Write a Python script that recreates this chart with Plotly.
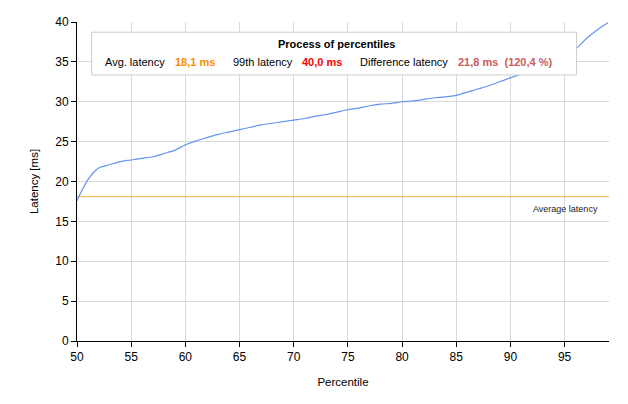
import plotly.graph_objects as go

percentiles = [50, 50.5, 51, 51.5, 52, 53, 54, 55, 56, 57, 58, 59, 60, 61, 62, 63, 64, 65,
               66, 67, 68, 69, 70, 71, 72, 73, 74, 75, 76, 77, 78, 79, 80, 81, 82, 83, 84,
               85, 86, 87, 88, 89, 90, 91, 92, 93, 94, 95, 96, 97, 98, 99]
latency = [17.6, 19.0, 20.2, 21.1, 21.7, 22.1, 22.5, 22.7, 22.9, 23.1, 23.5, 23.9, 24.6,
           25.1, 25.5, 25.9, 26.2, 26.5, 26.8, 27.1, 27.3, 27.5, 27.7, 27.9, 28.2, 28.4,
           28.7, 29.0, 29.2, 29.5, 29.7, 29.8, 30.0, 30.1, 30.3, 30.5, 30.6, 30.8, 31.2,
           31.6, 32.0, 32.5, 33.0, 33.5, 34.1, 34.7, 35.3, 35.9, 36.6, 37.9, 39.0, 39.9]
avg_latency = 18.1
x_ticks = [50, 55, 60, 65, 70, 75, 80, 85, 90, 95]
y_ticks = [0, 5, 10, 15, 20, 25, 30, 35, 40]

FONT = "Liberation Sans"

fig = go.Figure()
fig.add_trace(go.Scatter(x=[50, 99.1], y=[avg_latency, avg_latency], mode="lines",
                         line=dict(color="#F2B24E", width=1), hoverinfo="skip"))
fig.add_trace(go.Scatter(x=percentiles, y=latency, mode="lines",
                         line=dict(color="#6495ED", width=1.2, shape="spline", smoothing=0.8)))

fig.update_layout(
    width=628, height=404,
    margin=dict(l=77, r=19, t=22, b=63),
    paper_bgcolor="white", plot_bgcolor="white",
    showlegend=False,
    font=dict(family=FONT, size=12, color="black"),
    xaxis=dict(range=[50, 99.1], tickvals=x_ticks, showgrid=True, gridcolor="#D9D9D9",
               gridwidth=1, showline=True, linecolor="black", linewidth=1,
               ticks="outside", ticklen=5, tickcolor="black", zeroline=False,
               title=dict(text="Percentile", font=dict(size=11.5), standoff=14)),
    yaxis=dict(range=[0, 40], tickvals=y_ticks, showgrid=True, gridcolor="#D9D9D9",
               gridwidth=1, showline=True, linecolor="black", linewidth=1,
               ticks="outside", ticklen=5, tickcolor="black", zeroline=False,
               title=dict(text="Latency [ms]", font=dict(size=11.5), standoff=14)),
)

# legend-like info box
fig.add_shape(type="rect", xref="paper", yref="paper", x0=0.0276, x1=0.939, y0=0.834, y1=0.968,
              line=dict(color="#CCCCCC", width=1), fillcolor="white", layer="above")

anns = [
    dict(text="<b>Process of percentiles</b>", x=0.488, y=0.931, xanchor="center", color="black"),
    dict(text="Avg. latency", x=0.0483, y=0.876, xanchor="left", color="black"),
    dict(text="<b>18,1 ms</b>", x=0.181, y=0.876, xanchor="left", color="#FF8C00"),
    dict(text="99th latency", x=0.289, y=0.876, xanchor="left", color="black"),
    dict(text="<b>40,0 ms</b>", x=0.419, y=0.876, xanchor="left", color="#FF0000"),
    dict(text="Difference latency", x=0.529, y=0.876, xanchor="left", color="black"),
    dict(text="<b>21,8 ms  (120,4 %)</b>", x=0.712, y=0.876, xanchor="left", color="#CD5C5C"),
]
for a in anns:
    fig.add_annotation(text=a["text"], x=a["x"], y=a["y"], xref="paper", yref="paper",
                       xanchor=a["xanchor"], yanchor="middle", showarrow=False,
                       font=dict(family=FONT, size=11, color=a["color"]))

fig.add_annotation(text="Average latency", x=0.983, y=16.6, xref="paper", yref="y",
                   xanchor="right", yanchor="middle", showarrow=False,
                   font=dict(family=FONT, size=9, color="#222222"))

fig.write_html("out.html")
